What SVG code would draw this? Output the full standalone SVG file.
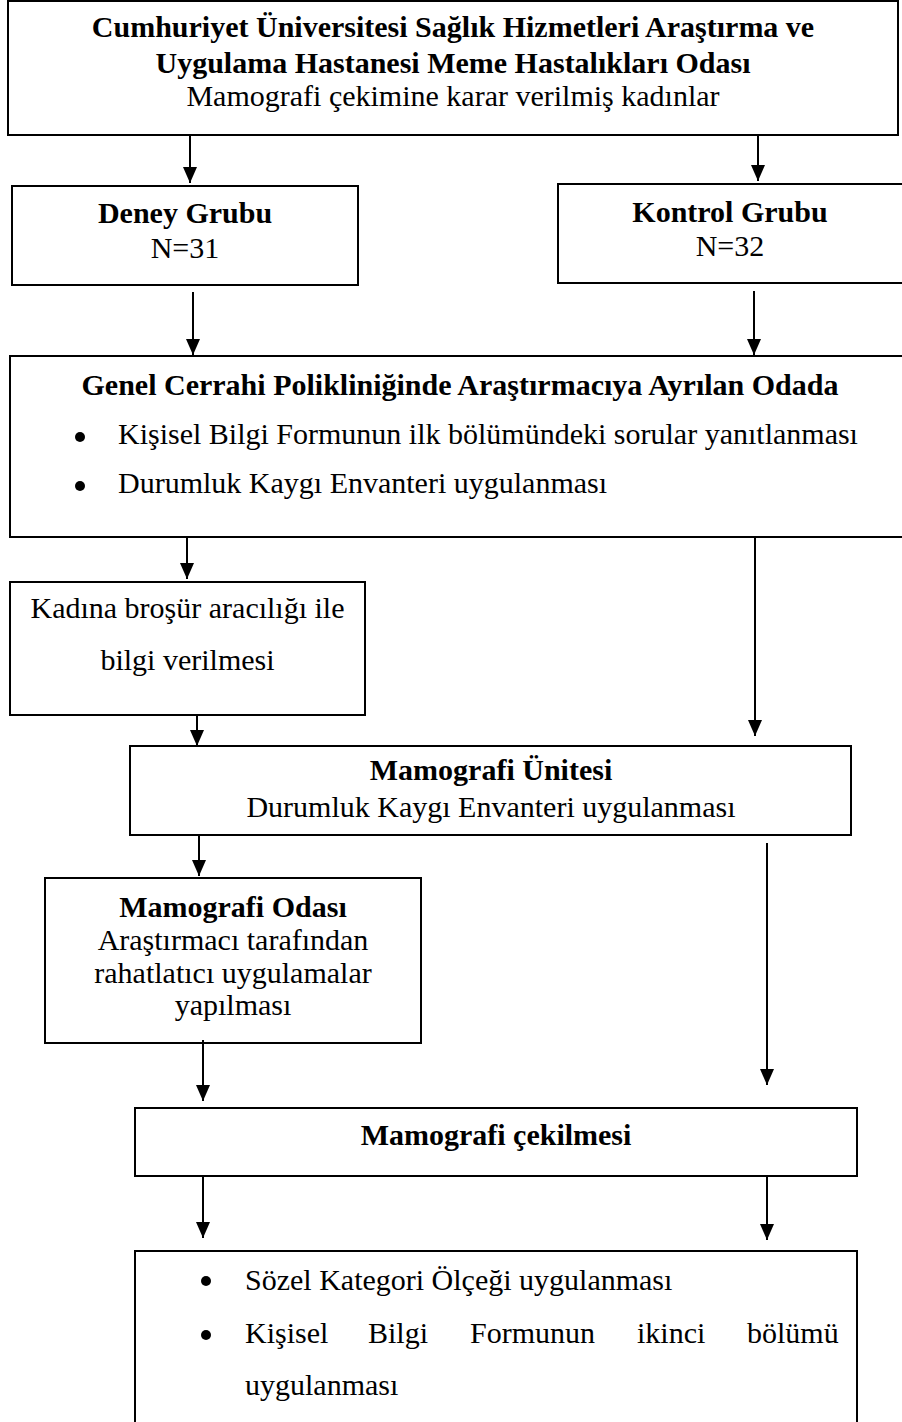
<svg xmlns="http://www.w3.org/2000/svg" width="902" height="1422" viewBox="0 0 902 1422">
<defs>
<marker id="arr" markerUnits="userSpaceOnUse" markerWidth="16" markerHeight="14" refX="16" refY="7" orient="auto" viewBox="0 0 16 14">
<path d="M0,0 L16,7 L0,14 z" fill="#000"/>
</marker>
<style>
.box{fill:#fff;stroke:#000;stroke-width:2}
.t{font-family:"Liberation Serif","Times New Roman",serif;font-size:30px;fill:#000}
.b{font-weight:bold}
.c{text-anchor:middle}
.ln{stroke:#000;stroke-width:2;fill:none}
.dot{fill:#000}
</style>
</defs>
<rect width="902" height="1422" fill="#fff"/>

<g id="n-top">
<rect class="box" x="8" y="1" width="890" height="134"/>
<text class="t b c" x="453" y="37">Cumhuriyet Üniversitesi Sağlık Hizmetleri Araştırma ve</text>
<text class="t b c" x="453" y="73">Uygulama Hastanesi Meme Hastalıkları Odası</text>
<text class="t c" x="453" y="106">Mamografi çekimine karar verilmiş kadınlar</text>
</g>

<g id="n-deney">
<rect class="box" x="12" y="186" width="346" height="99"/>
<text class="t b c" x="185" y="223">Deney Grubu</text>
<text class="t c" x="185" y="258">N=31</text>
</g>

<g id="n-kontrol">
<rect class="box" x="558" y="184" width="354" height="99"/>
<text class="t b c" x="730" y="222">Kontrol Grubu</text>
<text class="t c" x="730" y="256">N=32</text>
</g>

<g id="n-genel">
<rect class="box" x="10" y="356" width="902" height="181"/>
<text class="t b c" x="460" y="395">Genel Cerrahi Polikliniğinde Araştırmacıya Ayrılan Odada</text>
<circle class="dot" cx="80" cy="437" r="5"/>
<text class="t" x="118" y="444">Kişisel Bilgi Formunun ilk bölümündeki sorular yanıtlanması</text>
<circle class="dot" cx="80" cy="486" r="5"/>
<text class="t" x="118" y="493">Durumluk Kaygı Envanteri uygulanması</text>
</g>

<g id="n-brosur">
<rect class="box" x="10" y="582" width="355" height="133"/>
<text class="t c" x="187.5" y="618">Kadına broşür aracılığı ile</text>
<text class="t c" x="187.5" y="670">bilgi verilmesi</text>
</g>

<g id="n-unite">
<rect class="box" x="130" y="746" width="721" height="89"/>
<text class="t b c" x="491" y="780">Mamografi Ünitesi</text>
<text class="t c" x="491" y="817">Durumluk Kaygı Envanteri uygulanması</text>
</g>

<g id="n-oda">
<rect class="box" x="45" y="878" width="376" height="165"/>
<text class="t b c" x="233" y="917">Mamografi Odası</text>
<text class="t c" x="233" y="950">Araştırmacı tarafından</text>
<text class="t c" x="233" y="983">rahatlatıcı uygulamalar</text>
<text class="t c" x="233" y="1015">yapılması</text>
</g>

<g id="n-cekim">
<rect class="box" x="135" y="1108" width="722" height="68"/>
<text class="t b c" x="496" y="1145">Mamografi çekilmesi</text>
</g>

<g id="n-son">
<rect class="box" x="135" y="1251" width="722" height="200"/>
<circle class="dot" cx="206" cy="1281" r="5"/>
<text class="t" x="245" y="1290">Sözel Kategori Ölçeği uygulanması</text>
<circle class="dot" cx="206" cy="1335" r="5"/>
<text class="t" y="1343"><tspan x="245">Kişisel</tspan><tspan x="368">Bilgi</tspan><tspan x="470">Formunun</tspan><tspan x="637">ikinci</tspan><tspan x="747">bölümü</tspan></text>
<text class="t" x="245" y="1395">uygulanması</text>
</g>

<g id="connectors">
<line class="ln" x1="190" y1="136" x2="190" y2="183" marker-end="url(#arr)"/>
<line class="ln" x1="758" y1="136" x2="758" y2="181" marker-end="url(#arr)"/>
<line class="ln" x1="193" y1="292" x2="193" y2="355" marker-end="url(#arr)"/>
<line class="ln" x1="754" y1="291" x2="754" y2="355" marker-end="url(#arr)"/>
<line class="ln" x1="187" y1="538" x2="187" y2="579" marker-end="url(#arr)"/>
<line class="ln" x1="755" y1="538" x2="755" y2="736" marker-end="url(#arr)"/>
<line class="ln" x1="197" y1="716" x2="197" y2="746" marker-end="url(#arr)"/>
<line class="ln" x1="199" y1="836" x2="199" y2="876" marker-end="url(#arr)"/>
<line class="ln" x1="767" y1="843" x2="767" y2="1085" marker-end="url(#arr)"/>
<line class="ln" x1="203" y1="1040" x2="203" y2="1101" marker-end="url(#arr)"/>
<line class="ln" x1="203" y1="1177" x2="203" y2="1238" marker-end="url(#arr)"/>
<line class="ln" x1="767" y1="1177" x2="767" y2="1240" marker-end="url(#arr)"/>
</g>
</svg>
